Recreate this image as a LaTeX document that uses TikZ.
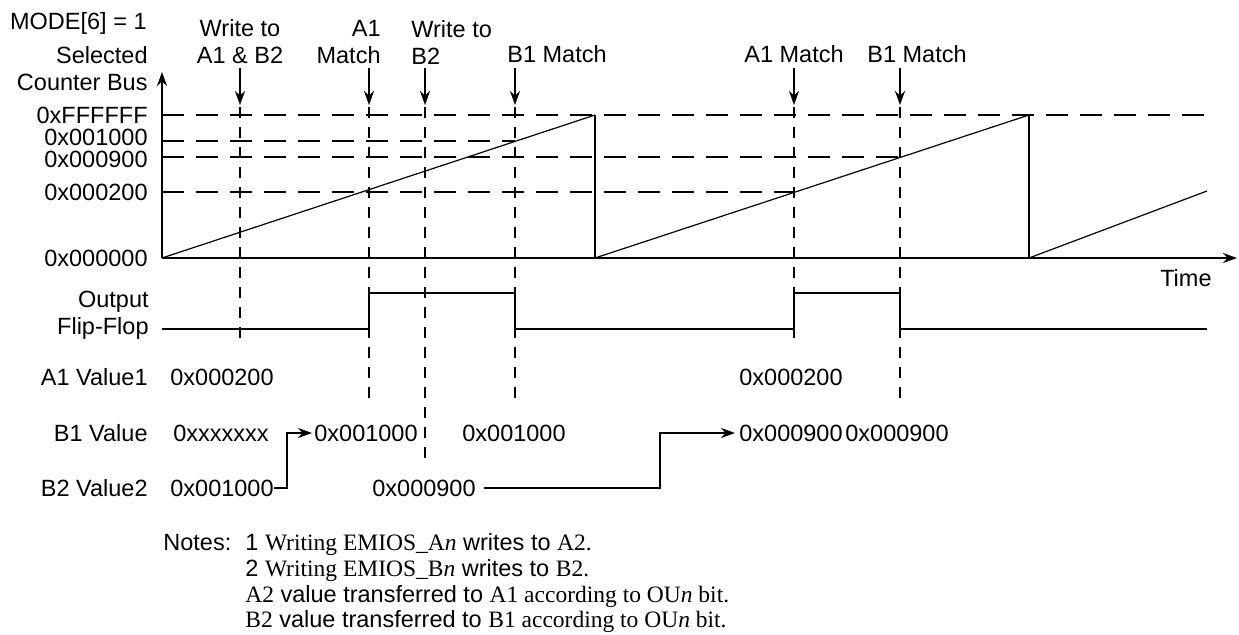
\documentclass[tikz,border=0pt]{standalone}
\usepackage{fontspec}
\setmainfont{Liberation Sans}
\newfontfamily\serifnote{Liberation Serif}
\usetikzlibrary{arrows.meta, positioning, calc}

\begin{document}
\begin{tikzpicture}[
  x=0.5pt, y=-0.5pt,
  txt/.style={inner sep=0pt, font=\fontsize{11.75}{13.5}\selectfont},
  lbl/.style={txt, text height=8.5pt, text depth=0pt},
  val/.style={lbl, anchor=west},
  axis/.style={line width=1.2pt, -{Stealth[length=7pt, width=5pt]}},
  ramp/.style={line width=0.6pt},
  wave/.style={line width=1.2pt},
  hdash/.style={line width=1pt, dash pattern=on 11pt off 6pt},
  vdash/.style={line width=1pt, dash pattern=on 5.5pt off 4.5pt},
  arrow/.style={line width=1pt, -{Stealth[length=7pt, width=5pt]}}
]
  \useasboundingbox (0,0) rectangle (1239,634);

  \coordinate (o) at (162,258);
  \coordinate (ytip) at (162,72);
  \coordinate (xtip) at (1237,258);
  \coordinate (top1) at (595,115);
  \coordinate (top2) at (1029,115);
  \coordinate (ramp3) at (1207,191);

  \draw[hdash] (o |- top1) -- (1207,115);
  \draw[hdash] (162,141) -- (515,141);
  \draw[hdash] (162,157) -- (900,157);
  \draw[hdash] (162,192) -- (794,192);

  \draw[vdash] (240,107) -- (240,347);
  \draw[vdash] (369,107) -- (369,405);
  \draw[vdash] (425,107) -- (425,462);
  \draw[vdash] (515,107) -- (515,405);
  \draw[vdash] (794,107) -- (794,347);
  \draw[vdash] (900,107) -- (900,405);

  \draw[ramp] (o) -- (top1);
  \draw[wave] (top1) -- (top1 |- o);
  \draw[ramp] (top1 |- o) -- (top2);
  \draw[wave] (top2) -- (top2 |- o);
  \draw[ramp] (top2 |- o) -- (ramp3);

  \draw[axis] (o) -- (ytip);
  \draw[axis] (o) -- (xtip);

  \draw[wave] (162,329) -- (369,329) -- (369,293) -- (515,293) -- (515,329) -- (794,329)
    -- (794,293) -- (900,293) -- (900,329) -- (1207,329);

  \node[lbl, anchor=east] (mode) at (147,21) {MODE[6] = 1};
  \node[txt, anchor=east, align=right] (bus) at (148,69) {Selected\\Counter Bus};
  \node[lbl, anchor=east] (lff) at (148,115) {0xFFFFFF};
  \node[lbl, anchor=east] (l1000) at (148,137) {0x001000};
  \node[lbl, anchor=east] (l900) at (148,159) {0x000900};
  \node[lbl, anchor=east] (l200) at (148,192) {0x000200};
  \node[lbl, anchor=east] (l0) at (148,258) {0x000000};
  \node[lbl, anchor=east] (time) at (1212,278) {Time};
  \node[txt, anchor=east, align=right] (ff) at (149,315) {Output\\Flip-Flop};
  \node[lbl, anchor=east] (a1) at (148,377) {A1 Value1};
  \node[lbl, anchor=east] (b1) at (148,433) {B1 Value};
  \node[lbl, anchor=east] (b2) at (148,488) {B2 Value2};

  \node[txt, align=center] (wab) at (240,42) {Write to\\A1 \& B2};
  \node[txt, anchor=east, align=right] (am1) at (381,42) {A1\\Match};
  \node[txt, anchor=west, align=left] (wb) at (411,42) {Write to\\B2};
  \node[lbl, anchor=west] (bm1) at (507,54) {B1 Match};
  \node[lbl] (am2) at (794,54) {A1 Match};
  \node[lbl, anchor=west] (bm2) at (867,54) {B1 Match};

  \coordinate (ev1) at (240,105);
  \coordinate (ev2) at (369,105);
  \coordinate (ev3) at (425,105);
  \coordinate (ev4) at (515,105);
  \coordinate (ev5) at (794,105);
  \coordinate (ev6) at (900,105);
  \foreach \e in {ev1,ev2,ev3,ev4,ev5,ev6}
    \draw[arrow] ($(\e)+(0,-37)$) -- (\e);

  \node[val] (a1v1) at (170,377) {0x000200};
  \node[val] (a1v2) at (739,377) {0x000200};
  \node[val] (b1v1) at (173,433) {0xxxxxxx};
  \node[val] (b1v2) at (314,433) {0x001000};
  \node[val] (b1v3) at (462,433) {0x001000};
  \node[val] (b1v4) at (739,433) {0x000900};
  \node[val] (b1v5) at (845,433) {0x000900};
  \node[val] (b2v1) at (170,488) {0x001000};
  \node[val] (b2v2) at (372,488) {0x000900};

  \coordinate (bend) at (660,488);
  \draw[arrow] (b2v1.east) -- ++(13,0) |- ([xshift=-1pt]b1v2.west);
  \draw[arrow] ([xshift=4pt]b2v2.east) -- (bend) |- ([xshift=-2pt]b1v4.west);

  \node[lbl, anchor=west] (notes) at (163,542) {Notes:};
  \node[lbl, anchor=west] (n1) at (245,542) {1 {\serifnote Writing EMIOS\_A\textit{n}} writes to {\serifnote A2.}};
  \node[lbl, anchor=west] (n2) at (245,568) {2 {\serifnote Writing EMIOS\_B\textit{n}} writes to {\serifnote B2.}};
  \node[lbl, anchor=west] (n3) at (245,594) {{\serifnote A2} value transferred to {\serifnote A1 according to OU\textit{n} bit.}};
  \node[lbl, anchor=west] (n4) at (245,619) {{\serifnote B2} value transferred to {\serifnote B1 according to OU\textit{n} bit.}};
\end{tikzpicture}
\end{document}
